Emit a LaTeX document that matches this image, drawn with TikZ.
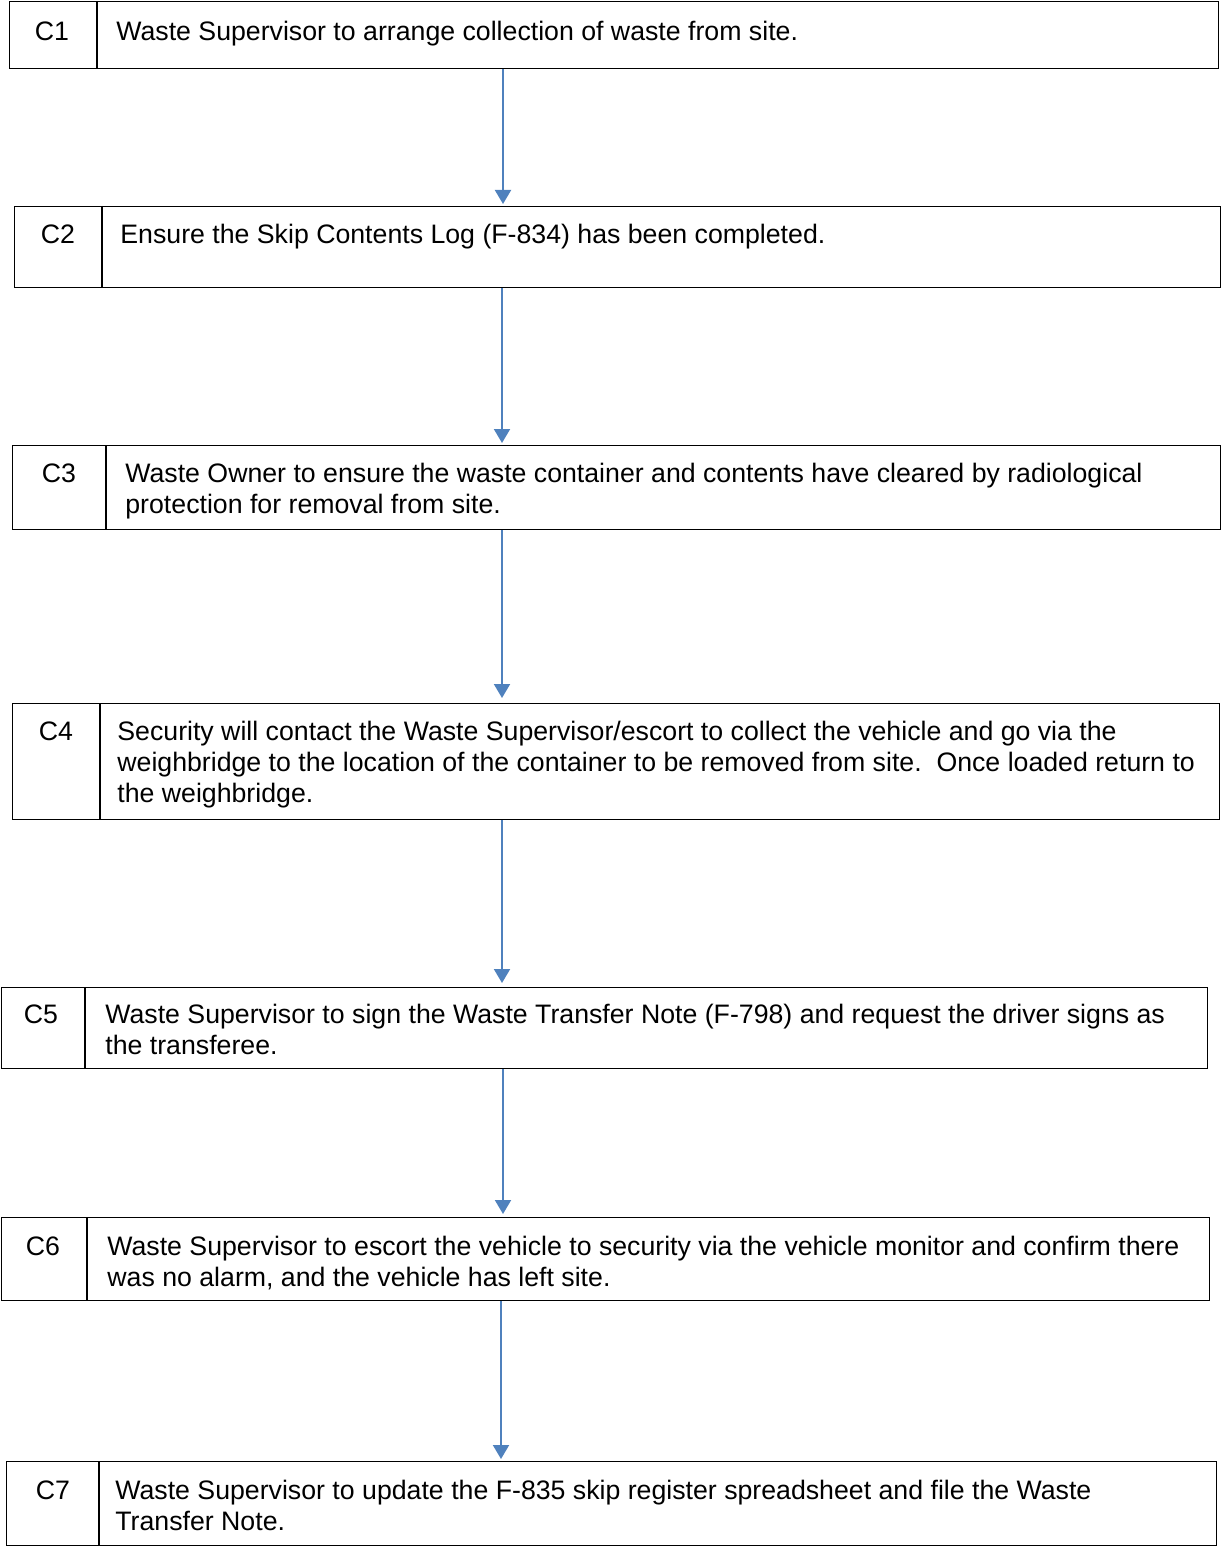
\documentclass[tikz,border=0pt]{standalone}
\usepackage{fontspec}
\setmainfont{Liberation Sans}
\usetikzlibrary{arrows.meta}
\definecolor{arrowblue}{RGB}{79,129,189}
\begin{document}
\begin{tikzpicture}[x=0.5pt,y=-0.5pt,
	stepbox/.style={draw,line width=0.7pt,inner sep=0,anchor=north west},
	steptag/.style={anchor=base,inner sep=0,font=\fontsize{13.35}{15.5}\selectfont},
	steptext/.style={anchor=base west,inner sep=0,align=left,font=\fontsize{13.35}{15.5}\selectfont},
	flow/.style={draw=arrowblue,line width=1pt,-{Triangle[length=7pt,width=8pt]}}]
\useasboundingbox (0,0) rectangle (1221,1546);

% C1
	\node[stepbox,minimum width=604.5pt,minimum height=33.5pt] (b1) at (9,1) {};
	\coordinate (d1) at (97,0);
	\draw[line width=0.7pt] (b1.north -| d1) -- (b1.south -| d1);
	\node[steptag] (t1) at (52,41) {C1};
	\node[steptext] (x1) at (116,41) {Waste Supervisor to arrange collection of waste from site.};

% C2
	\node[stepbox,minimum width=603pt,minimum height=40.5pt] (b2) at (14,206) {};
	\coordinate (d2) at (102,0);
	\draw[line width=0.7pt] (b2.north -| d2) -- (b2.south -| d2);
	\node[steptag] (t2) at (58,243) {C2};
	\node[steptext] (x2) at (120,243) {Ensure the Skip Contents Log (F-834) has been completed.};

% C3 (laatste regel op basislijn)
	\node[stepbox,minimum width=604pt,minimum height=42pt] (b3) at (12,445) {};
	\coordinate (d3) at (106,0);
	\draw[line width=0.7pt] (b3.north -| d3) -- (b3.south -| d3);
	\node[steptag] (t3) at (59,482) {C3};
	\node[steptext] (x3) at (125,513) {Waste Owner to ensure the waste container and contents have cleared by radiological\\protection for removal from site.};

% C4
	\node[stepbox,minimum width=603.5pt,minimum height=58pt] (b4) at (12,703) {};
	\coordinate (d4) at (100,0);
	\draw[line width=0.7pt] (b4.north -| d4) -- (b4.south -| d4);
	\node[steptag] (t4) at (56,740) {C4};
	\node[steptext] (x4) at (117,802) {Security will contact the Waste Supervisor/escort to collect the vehicle and go via the\\weighbridge to the location of the container to be removed from site.\ \ Once loaded return to\\the weighbridge.};

% C5
	\node[stepbox,minimum width=603pt,minimum height=40.5pt] (b5) at (1,987) {};
	\coordinate (d5) at (85,0);
	\draw[line width=0.7pt] (b5.north -| d5) -- (b5.south -| d5);
	\node[steptag] (t5) at (41,1023) {C5};
	\node[steptext] (x5) at (105,1054) {Waste Supervisor to sign the Waste Transfer Note (F-798) and request the driver signs as\\the transferee.};

% C6
	\node[stepbox,minimum width=604pt,minimum height=41.5pt] (b6) at (1,1217) {};
	\coordinate (d6) at (87,0);
	\draw[line width=0.7pt] (b6.north -| d6) -- (b6.south -| d6);
	\node[steptag] (t6) at (43,1255) {C6};
	\node[steptext] (x6) at (107,1286) {Waste Supervisor to escort the vehicle to security via the vehicle monitor and confirm there\\was no alarm, and the vehicle has left site.};

% C7
	\node[stepbox,minimum width=605pt,minimum height=42pt] (b7) at (6,1461) {};
	\coordinate (d7) at (99,0);
	\draw[line width=0.7pt] (b7.north -| d7) -- (b7.south -| d7);
	\node[steptag] (t7) at (53,1499) {C7};
	\node[steptext] (x7) at (115,1530) {Waste Supervisor to update the F-835 skip register spreadsheet and file the Waste\\Transfer Note.};

% pijlen
	\coordinate (a1) at (503,0);
	\coordinate (a2) at (502,0);
	\coordinate (a3) at (502,0);
	\coordinate (a4) at (502,0);
	\coordinate (a5) at (503,0);
	\coordinate (a6) at (501,0);
	\draw[flow] (b1.south -| a1) -- ([yshift=1pt]b2.north -| a1);
	\draw[flow] (b2.south -| a2) -- ([yshift=1pt]b3.north -| a2);
	\draw[flow] (b3.south -| a3) -- ([yshift=2.5pt]b4.north -| a3);
	\draw[flow] (b4.south -| a4) -- ([yshift=2pt]b5.north -| a4);
	\draw[flow] (b5.south -| a5) -- ([yshift=1.5pt]b6.north -| a5);
	\draw[flow] (b6.south -| a6) -- ([yshift=1pt]b7.north -| a6);
\end{tikzpicture}
\end{document}
